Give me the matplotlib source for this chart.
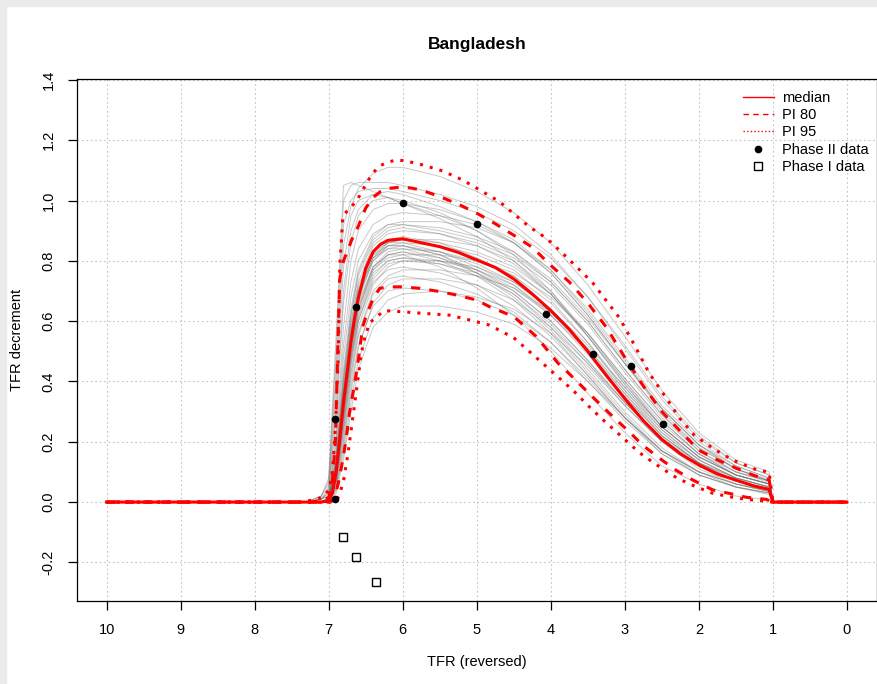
import matplotlib
matplotlib.use("Agg")
import matplotlib.pyplot as plt
from matplotlib.lines import Line2D
from matplotlib.patches import Rectangle

plt.rcParams['font.family'] = ['Liberation Sans', 'DejaVu Sans']

# ---- data ----
country = "Bangladesh"

# common TFR grid for the gray trajectories
traj_tfr = [7.3, 7.1, 7.0, 6.9, 6.8, 6.7, 6.6, 6.4, 6.2, 6.0, 5.5, 5.0,
            4.5, 4.0, 3.5, 3.0, 2.5, 2.0, 1.5, 1.05]
trajectories = [
    [0, 0, 0.01, 0.12, 0.36, 0.56, 0.70, 0.83, 0.87, 0.88, 0.86, 0.81, 0.75, 0.64, 0.50, 0.35, 0.22, 0.13, 0.08, 0.05],
    [0, 0, 0.00, 0.08, 0.28, 0.48, 0.62, 0.76, 0.80, 0.81, 0.79, 0.75, 0.69, 0.59, 0.46, 0.32, 0.20, 0.12, 0.07, 0.04],
    [0, 0.01, 0.03, 0.30, 0.70, 0.90, 0.97, 1.02, 1.03, 1.02, 0.98, 0.93, 0.86, 0.76, 0.62, 0.46, 0.31, 0.19, 0.12, 0.08],
    [0, 0.02, 0.08, 0.55, 1.05, 1.06, 1.05, 1.03, 1.01, 0.99, 0.95, 0.90, 0.83, 0.73, 0.60, 0.44, 0.29, 0.18, 0.11, 0.07],
    [0, 0, 0.00, 0.05, 0.20, 0.38, 0.52, 0.65, 0.70, 0.71, 0.70, 0.67, 0.62, 0.53, 0.41, 0.28, 0.17, 0.10, 0.05, 0.03],
    [0, 0, 0.01, 0.15, 0.42, 0.62, 0.75, 0.86, 0.90, 0.91, 0.89, 0.85, 0.79, 0.69, 0.55, 0.39, 0.25, 0.15, 0.09, 0.06],
    [0, 0, 0.00, 0.07, 0.25, 0.45, 0.60, 0.74, 0.79, 0.80, 0.80, 0.78, 0.73, 0.64, 0.51, 0.36, 0.22, 0.13, 0.07, 0.045],
    [0, 0.01, 0.02, 0.22, 0.58, 0.80, 0.90, 0.97, 0.99, 0.99, 0.97, 0.93, 0.87, 0.77, 0.63, 0.47, 0.31, 0.19, 0.11, 0.07],
    [0, 0, 0.01, 0.10, 0.33, 0.53, 0.67, 0.80, 0.84, 0.85, 0.82, 0.76, 0.68, 0.57, 0.43, 0.29, 0.17, 0.10, 0.06, 0.035],
    [0, 0, 0.00, 0.06, 0.24, 0.42, 0.56, 0.70, 0.75, 0.77, 0.77, 0.75, 0.71, 0.63, 0.51, 0.37, 0.24, 0.14, 0.08, 0.05],
    [0, 0, 0.01, 0.13, 0.38, 0.58, 0.71, 0.83, 0.86, 0.86, 0.83, 0.79, 0.73, 0.64, 0.52, 0.38, 0.25, 0.15, 0.09, 0.06],
    [0, 0, 0.02, 0.18, 0.48, 0.68, 0.80, 0.89, 0.92, 0.92, 0.90, 0.87, 0.82, 0.73, 0.60, 0.44, 0.29, 0.17, 0.10, 0.065],
    [0, 0, 0.00, 0.04, 0.16, 0.33, 0.47, 0.61, 0.67, 0.69, 0.70, 0.68, 0.64, 0.56, 0.45, 0.32, 0.20, 0.11, 0.06, 0.035],
    [0, 0.01, 0.03, 0.28, 0.66, 0.86, 0.95, 1.00, 1.01, 1.00, 0.96, 0.90, 0.82, 0.70, 0.55, 0.39, 0.25, 0.15, 0.09, 0.06],
    [0, 0, 0.01, 0.11, 0.35, 0.55, 0.69, 0.81, 0.85, 0.85, 0.82, 0.77, 0.70, 0.60, 0.47, 0.33, 0.21, 0.13, 0.08, 0.05],
    [0, 0, 0.00, 0.09, 0.30, 0.50, 0.64, 0.78, 0.83, 0.84, 0.83, 0.80, 0.75, 0.66, 0.53, 0.38, 0.24, 0.14, 0.08, 0.05],
    [0, 0, 0.01, 0.14, 0.40, 0.60, 0.73, 0.85, 0.89, 0.90, 0.89, 0.86, 0.81, 0.72, 0.59, 0.43, 0.28, 0.17, 0.10, 0.07],
    [0, 0, 0.00, 0.07, 0.26, 0.46, 0.60, 0.73, 0.77, 0.78, 0.76, 0.72, 0.65, 0.55, 0.42, 0.28, 0.16, 0.09, 0.05, 0.03],
    [0, 0.02, 0.06, 0.45, 0.92, 1.00, 1.03, 1.04, 1.04, 1.03, 1.00, 0.96, 0.90, 0.81, 0.68, 0.52, 0.35, 0.22, 0.13, 0.09],
    [0, 0, 0.01, 0.12, 0.37, 0.57, 0.70, 0.81, 0.84, 0.84, 0.81, 0.77, 0.71, 0.62, 0.50, 0.36, 0.23, 0.14, 0.08, 0.05],
    [0, 0, 0.00, 0.08, 0.28, 0.48, 0.63, 0.77, 0.82, 0.83, 0.81, 0.76, 0.69, 0.58, 0.44, 0.30, 0.18, 0.10, 0.06, 0.04],
    [0, 0, 0.01, 0.16, 0.44, 0.64, 0.77, 0.88, 0.92, 0.93, 0.93, 0.91, 0.86, 0.77, 0.64, 0.48, 0.32, 0.20, 0.12, 0.08],
    [0, 0, 0.00, 0.05, 0.21, 0.40, 0.55, 0.69, 0.74, 0.75, 0.73, 0.69, 0.63, 0.53, 0.40, 0.27, 0.16, 0.09, 0.05, 0.03],
    [0, 0, 0.01, 0.10, 0.33, 0.54, 0.68, 0.80, 0.85, 0.86, 0.85, 0.82, 0.77, 0.67, 0.53, 0.37, 0.23, 0.13, 0.07, 0.045],
    [0, 0.01, 0.04, 0.35, 0.78, 0.95, 1.00, 1.02, 1.01, 0.99, 0.94, 0.88, 0.80, 0.69, 0.55, 0.40, 0.26, 0.16, 0.10, 0.07],
    [0, 0, 0.00, 0.06, 0.23, 0.43, 0.58, 0.72, 0.78, 0.80, 0.79, 0.76, 0.70, 0.60, 0.47, 0.33, 0.21, 0.12, 0.07, 0.04],
    [0, 0, 0.01, 0.12, 0.36, 0.56, 0.70, 0.82, 0.86, 0.87, 0.86, 0.83, 0.78, 0.69, 0.56, 0.41, 0.27, 0.16, 0.09, 0.06],
    [0, 0, 0.00, 0.09, 0.31, 0.51, 0.65, 0.78, 0.82, 0.83, 0.80, 0.75, 0.67, 0.56, 0.42, 0.28, 0.17, 0.10, 0.06, 0.035],
    [0, 0, 0.01, 0.14, 0.41, 0.62, 0.76, 0.87, 0.91, 0.92, 0.91, 0.88, 0.83, 0.74, 0.61, 0.46, 0.31, 0.19, 0.11, 0.075],
    [0, 0, 0.00, 0.07, 0.27, 0.47, 0.61, 0.75, 0.80, 0.81, 0.80, 0.77, 0.72, 0.63, 0.50, 0.35, 0.22, 0.13, 0.07, 0.045],
    [0, 0.01, 0.02, 0.20, 0.52, 0.73, 0.84, 0.92, 0.95, 0.96, 0.95, 0.92, 0.86, 0.76, 0.62, 0.46, 0.30, 0.18, 0.11, 0.07],
    [0, 0, 0.00, 0.04, 0.18, 0.36, 0.51, 0.66, 0.72, 0.74, 0.74, 0.72, 0.67, 0.58, 0.46, 0.33, 0.21, 0.12, 0.07, 0.04],
    [0, 0, 0.01, 0.11, 0.34, 0.54, 0.68, 0.81, 0.86, 0.87, 0.87, 0.85, 0.80, 0.70, 0.56, 0.40, 0.25, 0.15, 0.09, 0.06],
    [0, 0, 0.01, 0.13, 0.39, 0.59, 0.72, 0.82, 0.85, 0.85, 0.83, 0.78, 0.72, 0.62, 0.49, 0.34, 0.21, 0.12, 0.07, 0.04],
    [0, 0, 0.00, 0.08, 0.29, 0.49, 0.64, 0.77, 0.81, 0.82, 0.82, 0.80, 0.76, 0.68, 0.56, 0.41, 0.27, 0.16, 0.09, 0.06],
    [0, 0.02, 0.07, 0.50, 1.00, 1.05, 1.06, 1.06, 1.06, 1.05, 1.02, 0.98, 0.92, 0.82, 0.68, 0.51, 0.34, 0.21, 0.13, 0.09],
    [0, 0.01, 0.05, 0.40, 0.85, 0.98, 1.04, 1.09, 1.11, 1.11, 1.08, 1.03, 0.96, 0.86, 0.72, 0.55, 0.37, 0.23, 0.14, 0.10],
    [0, 0, 0.00, 0.03, 0.14, 0.30, 0.44, 0.58, 0.63, 0.65, 0.65, 0.63, 0.59, 0.51, 0.40, 0.28, 0.17, 0.09, 0.05, 0.025],
    [0, 0, 0.01, 0.10, 0.32, 0.52, 0.66, 0.78, 0.82, 0.82, 0.78, 0.71, 0.62, 0.50, 0.36, 0.23, 0.12, 0.06, 0.02, 0.008],
]

median_tfr = [10, 7.3, 7.1, 7.0, 6.95, 6.9, 6.85, 6.8, 6.75, 6.7, 6.65, 6.6, 6.5, 6.4, 6.3, 6.2, 6.0,
              5.75, 5.5, 5.25, 5.0, 4.75, 4.5, 4.25, 4.0, 3.75, 3.5, 3.25, 3.0, 2.75, 2.5, 2.25,
              2.0, 1.75, 1.5, 1.25, 1.05, 1.0, 0]
median_dec = [0, 0, 0, 0.005, 0.03, 0.10, 0.21, 0.33, 0.43, 0.53, 0.61, 0.675, 0.775, 0.83, 0.855, 0.868, 0.873,
              0.86, 0.847, 0.828, 0.803, 0.778, 0.74, 0.69, 0.635, 0.573, 0.50, 0.42, 0.343, 0.27, 0.208, 0.16,
              0.123, 0.093, 0.073, 0.053, 0.042, 0, 0]

pi80_up_tfr = [10, 7.3, 7.1, 7.0, 6.95, 6.91, 6.89, 6.87, 6.85, 6.8, 6.74, 6.69, 6.6, 6.5, 6.4, 6.3, 6.2,
               6.05, 5.9, 5.75, 5.5, 5.25, 5.0, 4.75, 4.5, 4.25, 4.0, 3.75, 3.5, 3.25, 3.0, 2.75, 2.5,
               2.25, 2.0, 1.75, 1.5, 1.25, 1.05, 1.0, 0]
pi80_up_dec = [0, 0, 0.003, 0.015, 0.07, 0.2, 0.38, 0.58, 0.74, 0.80, 0.836, 0.869, 0.915, 0.975, 1.01, 1.03, 1.04,
               1.044, 1.042, 1.035, 1.013, 0.988, 0.958, 0.923, 0.885, 0.845, 0.785, 0.73, 0.66, 0.58, 0.48, 0.385, 0.30,
               0.235, 0.172, 0.14, 0.113, 0.088, 0.073, 0, 0]

pi80_lo_tfr = [10, 7.0, 6.95, 6.92, 6.87, 6.81, 6.76, 6.72, 6.65, 6.6, 6.54, 6.49, 6.4, 6.31, 6.2, 6.04,
               5.77, 5.5, 5.28, 5.0, 4.83, 4.5, 4.2, 3.9, 3.79, 3.39, 3.16, 2.94, 2.76, 2.53, 2.31, 2.08,
               1.81, 1.59, 1.36, 1.09, 1.0, 0]
pi80_lo_dec = [0, 0, 0.005, 0.018, 0.062, 0.139, 0.217, 0.294, 0.394, 0.471, 0.582, 0.62, 0.675, 0.709, 0.713, 0.714,
               0.709, 0.698, 0.687, 0.670, 0.648, 0.615, 0.55, 0.46, 0.435, 0.338, 0.283, 0.233, 0.189, 0.145, 0.106, 0.073,
               0.040, 0.029, 0.016, 0.009, 0, 0]

pi95_up_tfr = [10, 7.4, 7.3, 7.2, 7.1, 7.05, 7.0, 6.98, 6.95, 6.92, 6.9, 6.87, 6.85, 6.83, 6.81, 6.74, 6.63,
               6.56, 6.49, 6.42, 6.33, 6.22, 6.08, 5.95, 5.73, 5.46, 5.19, 4.96, 4.69, 4.51, 4.29, 4.06,
               3.84, 3.61, 3.43, 3.07, 2.87, 2.67, 2.42, 2.26, 2.06, 1.81, 1.54, 1.21, 1.05, 1.0, 0]
pi95_up_dec = [0, 0, 0.003, 0.008, 0.015, 0.025, 0.04, 0.06, 0.10, 0.2, 0.3, 0.5, 0.79, 0.858, 0.947, 0.969, 0.996,
               1.026, 1.057, 1.085, 1.112, 1.126, 1.135, 1.131, 1.118, 1.098, 1.068, 1.035, 0.996, 0.958, 0.913, 0.875,
               0.825, 0.77, 0.726, 0.61, 0.521, 0.427, 0.338, 0.278, 0.222, 0.178, 0.139, 0.106, 0.10, 0, 0]

pi95_lo_tfr = [10, 6.92, 6.86, 6.8, 6.74, 6.68, 6.62, 6.56, 6.51, 6.45, 6.355, 6.24, 6.0, 5.73, 5.37, 5.1,
               4.83, 4.5, 4.2, 3.88, 3.68, 3.48, 3.30, 3.1, 2.89, 2.76, 2.53, 2.29, 2.04, 1.81, 1.59,
               1.36, 1.14, 1.0, 0]
pi95_lo_dec = [0, 0, 0.02, 0.07, 0.16, 0.27, 0.38, 0.493, 0.548, 0.593, 0.615, 0.635, 0.631, 0.626, 0.620, 0.604,
               0.587, 0.545, 0.48, 0.41, 0.366, 0.316, 0.274, 0.23, 0.183, 0.156, 0.117, 0.079, 0.051, 0.029, 0.018,
               0.009, 0.004, 0, 0]

phase2_tfr = [6.92, 6.91, 6.625, 5.99, 4.99, 4.07, 3.43, 2.92, 2.48]
phase2_dec = [0.01, 0.275, 0.648, 0.993, 0.921, 0.624, 0.491, 0.451, 0.26]

phase1_tfr = [6.81, 6.625, 6.36]
phase1_dec = [-0.117, -0.181, -0.264]

xticks = list(range(0, 11))
yticks = [-0.2, 0.0, 0.2, 0.4, 0.6, 0.8, 1.0, 1.2, 1.4]

# ---- figure ----
W, H = 877, 684
fig = plt.figure(figsize=(W / 100, H / 100), dpi=100)
fig.patches.append(Rectangle((0, 0), 6 / W, 1, transform=fig.transFigure,
                             color='#ebebeb', zorder=0))
fig.patches.append(Rectangle((0, 1 - 6 / H), 1, 6 / H, transform=fig.transFigure,
                             color='#ebebeb', zorder=0))

ax = fig.add_axes([77 / W, (H - 601) / H, (876.5 - 77) / W, (601 - 79) / H])
ax.set_xlim(10.4, -0.4)
ax.set_ylim(-0.328, 1.403)

for v in xticks:
    ax.axvline(v, color='#c4c4c4', lw=0.8, dashes=(1.5, 2.5), zorder=1)
for v in yticks:
    ax.axhline(v, color='#c4c4c4', lw=0.8, dashes=(1.5, 2.5), zorder=1)

for tr in trajectories:
    ax.plot([10] + traj_tfr + [1.0, 0], [0] + tr + [0, 0],
            color='#707070', lw=0.7, alpha=0.38, zorder=2)

red = '#ff0000'
ax.plot(median_tfr, median_dec, color=red, lw=2.2, zorder=4)
ax.plot(pi80_up_tfr, pi80_up_dec, color=red, lw=2.2, dashes=(3, 3), zorder=4)
ax.plot(pi80_lo_tfr, pi80_lo_dec, color=red, lw=2.2, dashes=(3, 3), zorder=4)
ax.plot(pi95_up_tfr, pi95_up_dec, color=red, lw=2.2, dashes=(1, 2.3), zorder=4)
ax.plot(pi95_lo_tfr, pi95_lo_dec, color=red, lw=2.2, dashes=(1, 2.3), zorder=4)

ax.plot(phase2_tfr, phase2_dec, 'o', color='black', ms=4.5, zorder=5)
ax.plot(phase1_tfr, phase1_dec, 's', mfc='none', mec='black', mew=1.0, ms=5.5, zorder=5)

ax.set_xticks(xticks)
ax.set_xticklabels([str(v) for v in xticks])
ax.set_yticks(yticks)
ax.set_yticklabels(['%.1f' % v for v in yticks], rotation=90, va='center')
ax.tick_params(length=6.5, width=0.9, labelsize=10.5, pad=9, color='black')
for sp in ax.spines.values():
    sp.set_linewidth(0.9)

fig.text(477 / W, 1 - 45 / H, country, ha='center', va='center',
         fontsize=12.5, fontweight='bold')
fig.text(477 / W, 1 - 662 / H, 'TFR (reversed)', ha='center', va='center', fontsize=10.5)
fig.text(17.5 / W, 1 - 340 / H, 'TFR decrement', ha='center', va='center',
         rotation=90, fontsize=10.5)

handles = [
    Line2D([], [], color=red, lw=1),
    Line2D([], [], color=red, lw=1, dashes=(4, 3)),
    Line2D([], [], color=red, lw=1, dashes=(1, 1.6)),
    Line2D([], [], ls='none', marker='o', color='black', ms=4.5),
    Line2D([], [], ls='none', marker='s', mfc='none', mec='black', mew=1.0, ms=5.5),
]
labels = ['median', 'PI 80', 'PI 95', 'Phase II data', 'Phase I data']
ax.legend(handles, labels, loc='upper left', bbox_to_anchor=((743 - 77) / 799.5, (601 - 91) / 522),
          frameon=False, fontsize=10.5, handlelength=2.1, handletextpad=0.6,
          labelspacing=0.22, borderpad=0, borderaxespad=0)

fig.savefig('out.png', dpi=100)
